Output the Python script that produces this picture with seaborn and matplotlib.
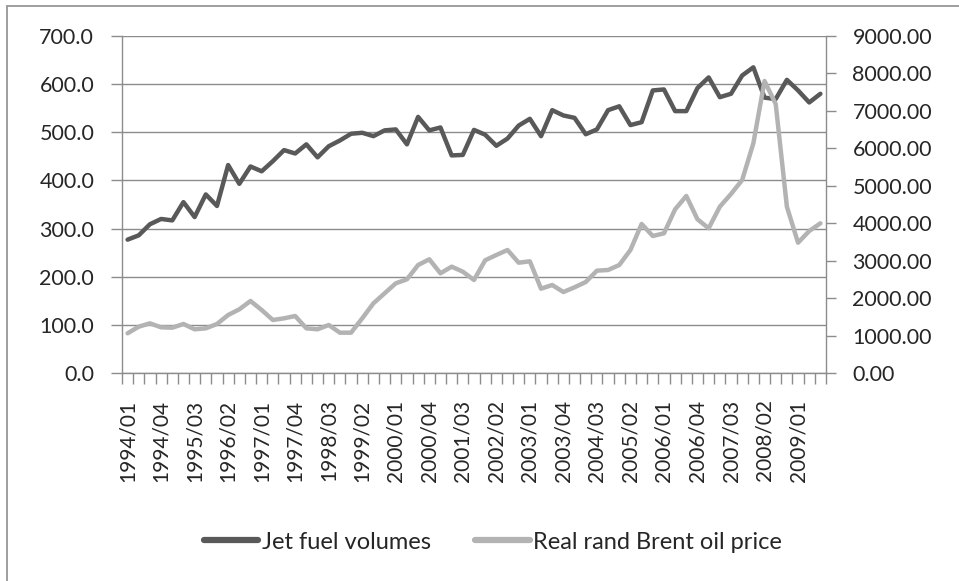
import numpy as np
import pandas as pd
import seaborn as sns
import matplotlib.pyplot as plt
from matplotlib.patches import Rectangle
from matplotlib.lines import Line2D

# Datos trimestrales 1994/01 - 2009/03
quarters = [f"{y}/{q:02d}" for y in range(1994, 2010) for q in range(1, 5)][:63]

jet_fuel = [277, 286, 309, 320, 317, 355, 324, 371, 347, 432,
            393, 429, 419, 440, 463, 456, 475, 448, 471, 483,
            497, 499, 492, 504, 506, 475, 532, 504, 510, 452,
            453, 505, 495, 472, 487, 514, 528, 492, 546, 535,
            530, 496, 506, 546, 554, 515, 521, 587, 589, 544,
            544, 592, 614, 573, 580, 618, 635, 572, 569, 609,
            587, 562, 580]

brent_rand = [1060, 1237, 1327, 1220, 1210, 1309, 1167, 1193, 1309, 1549,
              1701, 1923, 1683, 1416, 1460, 1522, 1193, 1167, 1282, 1077,
              1077, 1460, 1861, 2128, 2395, 2502, 2884, 3037, 2663, 2840,
              2706, 2484, 3010, 3152, 3285, 2946, 2983, 2252, 2350, 2163,
              2289, 2430, 2733, 2751, 2884, 3285, 3980, 3659, 3731, 4372,
              4728, 4105, 3865, 4442, 4781, 5155, 6135, 7799, 7185, 4442,
              3480, 3793, 3998]

df = pd.DataFrame({'quarter': quarters, 'pos': range(len(quarters)),
                   'jet': jet_fuel, 'brent': brent_rand})

dark = '#595959'
light = '#b3b3b3'
grid_col = '#8c8c8c'

sns.set_style('white')
plt.rcParams['font.family'] = ['Lato', 'DejaVu Sans']

fig = plt.figure(figsize=(9.59, 5.81), dpi=100)
ax = fig.add_axes([0.1272, 0.358, 0.7341, 0.580])
ax2 = ax.twinx()

sns.lineplot(data=df, x='pos', y='jet', ax=ax, color=dark, lw=3.2,
             solid_capstyle='round', solid_joinstyle='round')
sns.lineplot(data=df, x='pos', y='brent', ax=ax2, color=light, lw=3.2,
             solid_capstyle='round', solid_joinstyle='round')

ax.set_xlim(-0.5, len(quarters) - 0.5)
ax.set_ylim(0, 700)
ax2.set_ylim(0, 9000)
ax.set_yticks(np.arange(0, 701, 100))
ax.set_yticklabels([f"{v:.1f}" for v in np.arange(0, 701, 100)])
ax2.set_yticks(np.arange(0, 9001, 1000))
ax2.set_yticklabels([f"{v:.2f}" for v in np.arange(0, 9001, 1000)])

ax.set_xticks(range(0, len(quarters), 3))
ax.set_xticklabels(quarters[::3], rotation=90)
ax.set_xticks(np.arange(-0.5, len(quarters), 1), minor=True)
ax.tick_params(axis='x', which='major', length=0, pad=19, labelsize=15)
ax.tick_params(axis='x', which='minor', length=8, width=1, color=grid_col,
               direction='out', bottom=True)
ax.tick_params(axis='y', length=8, width=1, color=grid_col, pad=12,
               labelsize=15.5, left=True)
ax2.tick_params(axis='y', length=7, width=1, color=grid_col, pad=12,
                labelsize=15.5, right=True)

ax.grid(axis='y', color=grid_col, lw=1)
ax.set_axisbelow(True)
ax.set_xlabel('')
ax.set_ylabel('')
ax2.set_ylabel('')

for a in (ax, ax2):
    a.spines['top'].set_visible(False)
    for s in ('left', 'right', 'bottom'):
        a.spines[s].set_color(grid_col)
        a.spines[s].set_linewidth(1)
ax.spines['right'].set_visible(False)
ax2.spines['left'].set_visible(False)
ax2.spines['bottom'].set_visible(False)

handles = [Line2D([], [], color=dark, lw=4.5),
           Line2D([], [], color=light, lw=4.5)]
fig.legend(handles, ['Jet fuel volumes', 'Real rand Brent oil price'],
           loc='center', bbox_to_anchor=(0.514, 0.067), ncol=2,
           frameon=False, fontsize=17, handlelength=2.3,
           handletextpad=0.13, columnspacing=1.9)

fig.add_artist(Rectangle((0.0073, -0.05), 1.1, 1.0397,
                         transform=fig.transFigure, fill=False,
                         ec='#969696', lw=1.3))

fig.savefig('out.png', dpi=100)
